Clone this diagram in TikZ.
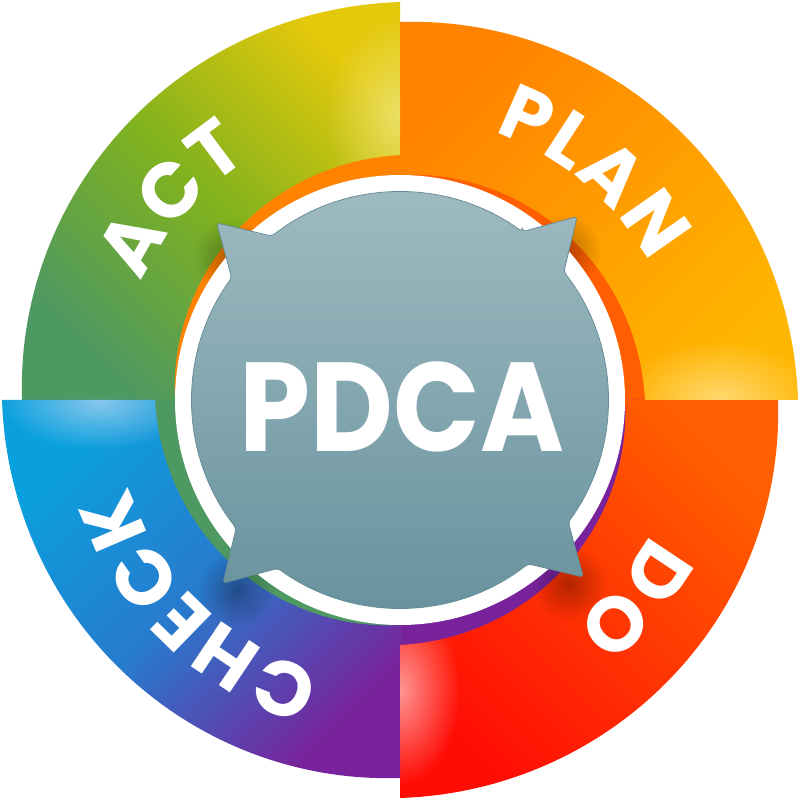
\documentclass[tikz,border=0pt]{standalone}
\usepackage{graphicx}
\usepackage{fontspec}
\usetikzlibrary{decorations.text,fadings}
\newfontfamily\labelfont{Poppins}

\definecolor{actA}{RGB}{78,152,98}
\definecolor{actB}{RGB}{128,178,30}
\definecolor{actC}{RGB}{228,200,10}
\definecolor{actHi}{RGB}{238,230,125}
\definecolor{planA}{RGB}{255,130,0}
\definecolor{planB}{RGB}{255,182,0}
\definecolor{planHi}{RGB}{255,225,140}
\definecolor{doA}{RGB}{255,95,0}
\definecolor{doB}{RGB}{255,12,5}
\definecolor{doHi}{RGB}{255,185,185}
\definecolor{checkA}{RGB}{120,35,155}
\definecolor{checkB}{RGB}{40,122,205}
\definecolor{checkC}{RGB}{10,160,222}
\definecolor{checkHi}{RGB}{170,210,240}
\definecolor{pdcaTop}{RGB}{160,187,194}
\definecolor{pdcaBot}{RGB}{102,145,156}
\definecolor{pdcaEdge}{RGB}{95,138,150}

\tikzfading[name=soft blob, inner color=transparent!0, outer color=transparent!100]

\begin{document}
\begin{tikzpicture}[x=0.02cm,y=0.02cm]
% Estilos
\tikzset{
  spiral band/.style 2 args={insert path={plot[domain=#1:#2,samples=60] (\x:{378+20*((#1)-(\x))/90})
     -- plot[domain=#2:#1,samples=60] (\x:{225+20*((#1)-(\x))/90}) -- cycle}},
  tail band/.style 2 args={insert path={(#1:252) arc[start angle=#1,end angle=#2,radius=252]
     -- (#2:190) arc[start angle=#2,end angle=#1,radius=190] -- cycle}},
  step label/.style={decorate,decoration={text along path,text align=center,text color=white,
     text={|\labelfont\bfseries\fontsize{44}{44}\selectfont\kern1.5pt|#1}}},
  pdca text/.style={text=white,inner sep=0pt,font=\labelfont\bfseries\fontsize{72}{72}\selectfont}
}
\useasboundingbox (-400,-400) rectangle (400,400);

% Colas
\fill[planA] [tail band={90}{180}];
\fill[doA] [tail band={0}{90}];
\fill[checkA] [tail band={-90}{0}];
\fill[actA] [tail band={180}{270}];

% Segmentos
\shade[bottom color=actA, top color=actC, middle color=actB, shading angle=-45] [spiral band={180}{90}];
\shade[top color=planA, bottom color=planB, shading angle=45] [spiral band={90}{0}];
\shade[top color=doA, bottom color=doB, shading angle=-45] [spiral band={0}{-90}];
\shade[bottom color=checkA, top color=checkC, middle color=checkB, shading angle=45] [spiral band={-90}{-180}];

% Brillos
\begin{scope}
  \clip[spiral band={180}{90}];
  \fill[actHi, opacity=.8, path fading=soft blob] (0,285) ellipse (75 and 100);
\end{scope}
\begin{scope}
  \clip[spiral band={90}{0}];
  \fill[planHi, opacity=.8, path fading=soft blob] (320,0) ellipse (100 and 60);
\end{scope}
\begin{scope}
  \clip[spiral band={0}{-90}];
  \fill[doHi, opacity=.8, path fading=soft blob] (0,-290) ellipse (60 and 95);
\end{scope}
\begin{scope}
  \clip[spiral band={-90}{-180}];
  \fill[checkHi, opacity=.8, path fading=soft blob] (-300,0) ellipse (100 and 50);
\end{scope}

% Sombras
\foreach \c in {46,136,226,316}
  \fill[black, opacity=.3, path fading=soft blob] ([yshift=-0.4cm]\c:235) circle (38);

% Centro
\fill[white] (0,0) circle (225);
\shade[top color=pdcaTop, bottom color=pdcaBot, draw=pdcaEdge, line width=.4pt, rounded corners=2pt]
  (54:208) \foreach \c in {136,226,316,406} {
    arc[start angle=\c-82, end angle=\c-8, radius=208] -- (\c:255) -- (\c+8:208)
  } -- cycle;
\node[pdca text] (pdca) at (2,-7) {\scalebox{0.9}[1]{PDCA}};

% Etiquetas
\path[step label=ACT] (184:284) arc[start angle=184, end angle=94, radius=284];
\path[step label=PLAN] (95:284) arc[start angle=95, end angle=5, radius=284];
\path[step label=DO] (5:284) arc[start angle=5, end angle=-85, radius=284];
\path[step label=CHECK] (271:284) arc[start angle=271, end angle=181, radius=284];

\end{tikzpicture}
\end{document}
